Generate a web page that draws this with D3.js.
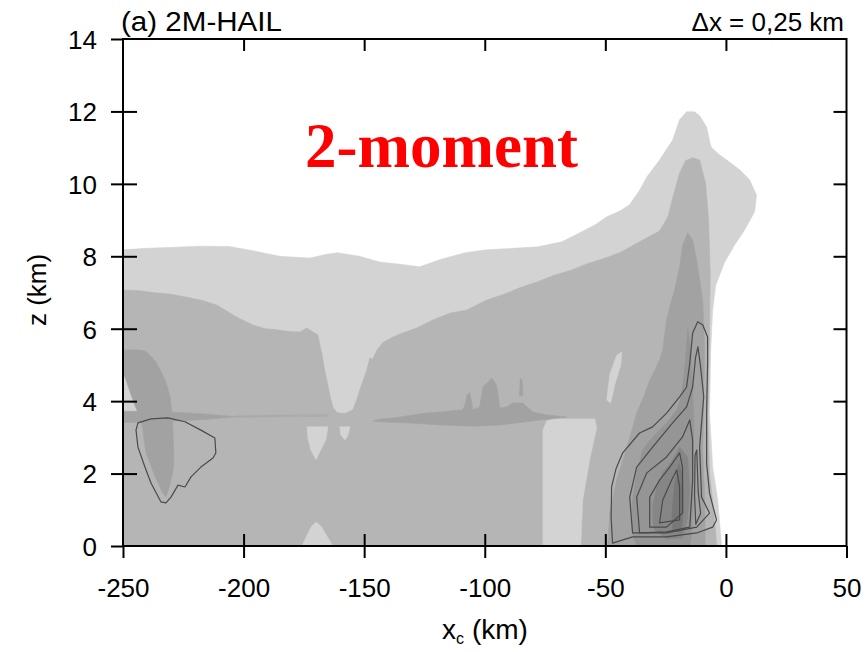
<!DOCTYPE html>
<html>
<head>
<meta charset="utf-8">
<script src="https://cdn.jsdelivr.net/npm/d3@7"></script>
<style>
  html, body { margin: 0; padding: 0; background: #ffffff; }
  svg { display: block; }
  .tick text { font-family: "Liberation Sans", Arial, sans-serif; }
</style>
</head>
<body>
<svg id="chart" width="867" height="652"></svg>
<script>
// Axis ranges and ticks (km)
const xDomain = [-250, 50];
const zDomain = [0, 14];
const xTicks = [-250, -200, -150, -100, -50, 0, 50];
const zTicks = [0, 2, 4, 6, 8, 10, 12, 14];

// Filled contour regions, each as [x (km), z (km)] vertices.
// Lightest shade: outer envelope of the cloud field
const shade1Outer = [
  [-250,0],[-250,8.18],[-240,8.22],[-228,8.25],[-218,8.28],[-206,8.27],[-196,8.15],[-185,8.0],
  [-172.5,7.95],[-166,8.05],[-161,8.1],[-152,8.0],[-143.5,7.84],[-135,7.78],[-127,7.71],
  [-118,7.92],[-108,8.1],[-99,8.18],[-88,8.22],[-78,8.26],[-68,8.4],[-60.6,8.65],[-54,8.88],
  [-49.4,9.09],[-44,9.25],[-40,9.42],[-36,9.8],[-32.8,10.19],[-27.5,10.66],[-22.1,11.21],
  [-19.2,11.77],[-16.3,11.99],[-13,11.99],[-10.9,11.88],[-8,11.57],[-6.5,11.1],[-5.9,11.0],
  [-2.6,10.8],[0.3,10.66],[5.7,10.39],[9.8,10.11],[12.7,9.69],[11.9,9.23],[7.8,8.73],
  [3.6,8.31],[-0.5,7.84],[-4.2,7.21],[-5.5,6.52],[-6.3,5.41],[-6.8,3.67],[-5.5,2.18],
  [-3.4,1.27],[-1.8,0]
];
// Second shade: bulk of the anvil / stratiform region
const shade2Main = [
  [-250,0],[-250,7.07],[-243,7.05],[-237.6,7.0],[-230,6.95],[-223.5,6.87],[-217,6.78],[-211,6.65],
  [-206,6.45],[-202.8,6.32],[-196.1,6.1],[-191,6.0],[-186.2,5.97],[-181,5.92],[-176.7,5.91],
  [-173.8,6.02],[-171,5.9],[-169.2,5.83],[-168.2,5.5],[-167.5,5.3],[-166.5,4.9],[-165.5,4.58],
  [-164,4.1],[-163,3.84],[-161.3,3.68],[-158,3.66],[-154.7,3.76],[-153,4.05],[-151.8,4.31],
  [-148.9,4.86],[-147.6,5.2],[-146.5,5.15],[-144.7,5.41],[-142.3,5.61],[-138.1,5.77],[-134,5.88],
  [-128.2,6.02],[-121.5,6.24],[-114.5,6.43],[-107.4,6.52],[-99.2,6.79],[-92,6.95],[-85.5,7.13],
  [-78,7.3],[-71.8,7.46],[-64,7.62],[-57.7,7.79],[-50,7.95],[-44,8.1],[-35.8,8.4],[-27.5,8.7],
  [-24,9.1],[-22.1,9.6],[-19.2,10.3],[-16.7,10.64],[-13.8,10.72],[-10.9,10.66],[-8.4,10.0],
  [-7.2,9.0],[-6.5,7.5],[-6.9,5.5],[-7.4,3.5],[-6.8,2.0],[-5.1,1.0],[-3.8,0]
];
// Light gaps inside the second shade
const gapWedge = [[-250,4.75],[-249.2,4.67],[-246.5,4.15],[-243.8,3.67],[-250,3.67]];
const gapA = [[-173.7,3.29],[-165,3.29],[-165.9,2.93],[-168.4,2.6],[-170,2.38],[-172.1,2.65],[-173.3,2.98]];
const gapB = [[-160.1,3.29],[-155.9,3.29],[-156.8,3.04],[-158,2.93],[-159.7,3.07]];
const gapC = [[-175.8,0],[-173.7,0.3],[-171.7,0.55],[-170,0.66],[-168,0.55],[-165.5,0.28],[-163,0]];
const gapD = [[-75.9,0],[-75.9,3.2],[-74.3,3.45],[-71,3.51],[-54.4,3.51],[-53.6,3.26],[-54.5,3.0],
  [-56.5,2.38],[-58,1.8],[-59.4,1.27],[-60.2,0]];
const gapE = [[-49.4,4.03],[-48.2,4.72],[-45.3,5.27],[-43.2,5.36],[-43.6,5.0],[-46.1,4.45],[-47.8,3.95]];

// Third shade
const shade3West = [
  [-250,5.41],[-245,5.42],[-240.9,5.39],[-238.5,5.25],[-236.3,5.08],[-234.5,4.85],[-232.6,4.59],
  [-231.4,4.35],[-230.5,4.12],[-229.7,3.67],[-229.3,3.2],[-229,2.7],[-228.9,2.29],[-229.3,2.05],
  [-230.1,1.82],[-231.2,1.55],[-232.2,1.35],[-233.8,1.5],[-236.7,1.91],[-238.6,2.25],[-240.5,2.57],
  [-241.2,2.9],[-241.7,3.2],[-242.6,3.45],[-243.8,3.67],[-246.5,4.15],[-249.2,4.67],[-250,4.75]
];
const shade3Band = [[-250,3.72],[-243,3.72],[-235,3.71],[-225,3.68],[-215,3.64],[-208,3.6],[-203,3.57],
  [-208,3.54],[-215,3.5],[-225,3.46],[-235,3.43],[-250,3.41]];
const shade3Trace = [[-203,3.6],[-185,3.62],[-165,3.63],[-165,3.58],[-185,3.57],[-203,3.55]];
const shade3Mid = [
  [-146.4,3.45],[-143.5,3.5],[-135.2,3.56],[-125.7,3.66],[-118.6,3.70],[-109.1,3.76],[-108.2,3.9],
  [-107.4,4.17],[-106.2,4.23],[-105.5,4.0],[-104.9,3.76],[-102.1,3.84],[-101.5,4.1],[-100.8,4.39],
  [-99,4.5],[-97.1,4.64],[-96,4.55],[-95,4.39],[-94.3,4.1],[-93.8,3.81],[-90.9,3.84],[-88.4,3.95],
  [-84.2,3.95],[-82,3.82],[-80.1,3.70],[-74.3,3.62],[-66,3.56],[-71.8,3.52],[-78,3.47],[-84.2,3.42],
  [-93.8,3.34],[-104.9,3.31],[-118.6,3.34],[-132.3,3.40],[-143.5,3.43]
];
const shade3Spike = [[-85.6,4.15],[-85.3,4.62],[-84.5,4.58],[-84.2,4.15]];
const shade3Storm = [
  [-49,0],[-48.6,0.45],[-48.2,0.91],[-46.8,1.35],[-45.3,1.82],[-43.2,2.27],[-41.1,2.73],[-39,3.2],
  [-37,3.67],[-34.2,4.1],[-31.6,4.58],[-29.5,4.85],[-27.5,5.14],[-26.2,5.41],[-25.4,5.85],[-24.6,6.24],
  [-23.3,6.6],[-21.3,7.07],[-19.2,7.71],[-17.9,8.31],[-15.8,8.65],[-13.8,8.45],[-12.1,7.9],[-10.8,7.3],
  [-9.6,6.79],[-8.8,5.41],[-9.2,4.03],[-9.6,2.65],[-8.8,1.27],[-8.6,0]
];
// Fourth to sixth shades: convective core
const shade4Storm = [
  [-15.8,6.0],[-16.6,5.3],[-17.5,4.6],[-19.0,4.0],[-20.4,3.76],[-24.5,3.4],[-28.7,3.12],[-31.8,2.9],
  [-34.5,2.65],[-37,2.02],[-38.7,1.27],[-39.2,0.7],[-38.7,0.3],[-37,0],[-15,0],[-14.2,0.36],
  [-13.6,1.2],[-13.6,2.18],[-13.4,3.48],[-13.8,4.5],[-14.6,5.4]
];
const shade5Storm = [[-19.2,2.73],[-22.1,2.38],[-26.2,2.02],[-28.7,1.63],[-30.4,1.08],[-30.2,0.6],
  [-29.6,0.44],[-24.6,0.2],[-18.0,0.22],[-15.8,0.8],[-15,1.63],[-15.8,2.46]];
const shade6Storm = [[-19.5,2.3],[-21.2,1.7],[-22.4,0.9],[-22.0,0.4],[-18.6,0.38],[-17.6,1.0],[-17.8,1.9]];

// Overlaid contour lines
const contourWest = [
  [-243.8,3.40],[-238.4,3.51],[-231.4,3.54],[-224.3,3.43],[-217.7,3.20],[-211.9,2.98],[-211.5,2.57],
  [-212.7,2.43],[-217.7,2.18],[-221.8,1.91],[-224.3,1.63],[-227.2,1.68],[-230.1,1.35],[-232.2,1.19],
  [-234.3,1.22],[-238.4,1.74],[-240.9,2.18],[-243.8,2.73],[-244.6,3.20]
];
const contourCore1 = [
  [-47.0,0.08],[-47.6,0.8],[-47.4,1.63],[-45.5,2.15],[-42.8,2.57],[-35.8,3.12],[-30.4,3.29],
  [-24.6,3.67],[-19.2,4.12],[-16.3,4.39],[-15,5.05],[-13.8,5.88],[-11.7,6.19],[-9.6,6.1],
  [-7.6,5.77],[-7.6,5.05],[-8.0,3.67],[-8.0,2.29],[-6.8,1.46],[-3.9,0.72],[-5.5,0.52],[-12.1,0.36],
  [-24.6,0.25],[-38.7,0.25]
];
const contourCore2 = [
  [-38.7,0.36],[-39.9,1.35],[-37,2.18],[-30.4,2.73],[-22.1,3.4],[-16.3,3.84],[-13.8,4.39],
  [-12.6,5.2],[-11.6,5.5],[-10.6,5.0],[-9.2,4.12],[-10.9,2.73],[-10.1,1.35],[-6.8,0.91],[-12.1,0.52],
  [-24.6,0.36]
];
const contourCore3 = [
  [-35.8,0.36],[-37,1.35],[-32.8,2.02],[-24.6,2.46],[-18,3.01],[-15,3.48],[-13.8,2.93],[-13.8,1.82],
  [-15,0.52],[-24.6,0.39]
];
const contourCore4 = [
  [-31.6,0.52],[-31.6,1.35],[-27.5,1.82],[-23.3,2.18],[-19.2,2.57],[-18,2.18],[-18,0.91],[-24.6,0.52]
];
const contourCore5 = [[-27.5,0.64],[-26.2,1.27],[-22.5,1.82],[-20.4,2.1],[-19.2,1.63],[-19.2,0.72]];
const contourCore6 = [[-12.1,2.65],[-11.5,1.5],[-10.5,0.9],[-12.5,0.6],[-13.0,1.4],[-12.8,2.5]];

const W = 867, H = 652;
const plot = { left: 123, right: 846.5, top: 39, bottom: 546 };

const svg = d3.select("#chart");
svg.append("rect").attr("width", W).attr("height", H).attr("fill", "#ffffff");

const x = d3.scaleLinear().domain(xDomain).range([plot.left, plot.right]);
const z = d3.scaleLinear().domain(zDomain).range([plot.bottom, plot.top]);

const area = d3.line().x(d => x(d[0])).y(d => z(d[1])).curve(d3.curveLinearClosed);

svg.append("clipPath").attr("id", "plotClip")
  .append("rect")
  .attr("x", plot.left).attr("y", plot.top)
  .attr("width", plot.right - plot.left).attr("height", plot.bottom - plot.top);

const g = svg.append("g").attr("clip-path", "url(#plotClip)");

const C1 = "#d3d3d3", C2 = "#b5b5b5", C3 = "#a2a2a2", C4 = "#959595", C5 = "#868686", C6 = "#787878";

const fills = [
  [shade1Outer, C1],
  [shade2Main, C2],
  [gapWedge, C1], [gapA, C1], [gapB, C1], [gapC, C1], [gapD, C1], [gapE, C1],
  [shade3West, C3], [shade3Band, C3], [shade3Trace, "#ababab"], [shade3Mid, C3], [shade3Spike, C3],
  [shade3Storm, C3],
  [shade4Storm, C4], [shade5Storm, C5], [shade6Storm, C6]
];
g.selectAll("path.shade").data(fills).join("path")
  .attr("class", "shade")
  .attr("d", d => area(d[0]))
  .attr("fill", d => d[1])
  .attr("stroke", d => d[1])
  .attr("stroke-width", 0.6);

const lines = [contourWest, contourCore1, contourCore2, contourCore3, contourCore4, contourCore5, contourCore6];
g.selectAll("path.cline").data(lines).join("path")
  .attr("class", "cline")
  .attr("d", d => area(d))
  .attr("fill", "none")
  .attr("stroke", "#4a4a4a")
  .attr("stroke-width", 1.2)
  .attr("stroke-linejoin", "round");

// Axes
const fontFam = '"Liberation Sans", Arial, Helvetica, sans-serif';
const tickFont = 26;

const bottomOut = svg.append("g").attr("transform", `translate(0,${plot.bottom})`)
  .call(d3.axisBottom(x).tickValues(xTicks).tickSizeInner(12).tickSizeOuter(0).tickPadding(10)
    .tickFormat(d => String(d)));
bottomOut.selectAll("text").attr("font-size", tickFont).attr("font-family", fontFam).attr("fill", "#000")
  .attr("y", 51).attr("dy", 0);
const bottomIn = svg.append("g").attr("transform", `translate(0,${plot.bottom})`)
  .call(d3.axisBottom(x).tickValues(xTicks.slice(1, -1)).tickSizeInner(-12).tickSizeOuter(0).tickFormat(""));

const leftOut = svg.append("g").attr("transform", `translate(${plot.left},0)`)
  .call(d3.axisLeft(z).tickValues(zTicks).tickSizeInner(12).tickSizeOuter(0).tickPadding(14)
    .tickFormat(d => String(d)));
leftOut.selectAll("text").attr("font-size", tickFont).attr("font-family", fontFam).attr("fill", "#000")
  .attr("dy", "0.36em");
const leftIn = svg.append("g").attr("transform", `translate(${plot.left},0)`)
  .call(d3.axisLeft(z).tickValues(zTicks.slice(1, -1)).tickSizeInner(-14).tickSizeOuter(0).tickFormat(""));

const topIn = svg.append("g").attr("transform", `translate(0,${plot.top})`)
  .call(d3.axisTop(x).tickValues(xTicks.slice(1, -1)).tickSizeInner(-12).tickSizeOuter(0).tickFormat(""));
const rightIn = svg.append("g").attr("transform", `translate(${plot.right},0)`)
  .call(d3.axisRight(z).tickValues(zTicks.slice(1, -1)).tickSizeInner(-13).tickSizeOuter(0).tickFormat(""));

[bottomOut, bottomIn, leftOut, leftIn, topIn, rightIn].forEach(a => {
  a.select(".domain").remove();
  a.selectAll(".tick line").attr("stroke", "#000").attr("stroke-width", 2);
});

svg.append("rect")
  .attr("x", plot.left).attr("y", plot.top)
  .attr("width", plot.right - plot.left).attr("height", plot.bottom - plot.top)
  .attr("fill", "none").attr("stroke", "#000").attr("stroke-width", 2);

// Titles and labels
svg.append("text").attr("x", 121).attr("y", 31)
  .attr("font-family", fontFam).attr("font-size", 27).attr("fill", "#000")
  .attr("textLength", 161).attr("lengthAdjust", "spacingAndGlyphs")
  .text("(a) 2M-HAIL");
svg.append("text").attr("x", 844).attr("y", 31).attr("text-anchor", "end")
  .attr("font-family", fontFam).attr("font-size", 26).attr("fill", "#000")
  .text("\u0394x = 0,25 km");

const xl = svg.append("text").attr("x", 485).attr("y", 639).attr("text-anchor", "middle")
  .attr("font-family", fontFam).attr("font-size", 28).attr("fill", "#000");
xl.append("tspan").text("x");
xl.append("tspan").attr("font-size", 16).attr("dy", 5).text("c");
xl.append("tspan").attr("dy", -5).text(" (km)");

svg.append("text")
  .attr("transform", "translate(46,290) rotate(-90)")
  .attr("text-anchor", "middle")
  .attr("font-family", fontFam).attr("font-size", 26).attr("fill", "#000")
  .text("z (km)");

svg.append("text").attr("x", 305).attr("y", 167)
  .attr("font-family", '"Liberation Serif", "Times New Roman", serif')
  .attr("font-weight", "bold").attr("font-size", 63).attr("fill", "#ff0000")
  .text("2-moment");
</script>
</body>
</html>
